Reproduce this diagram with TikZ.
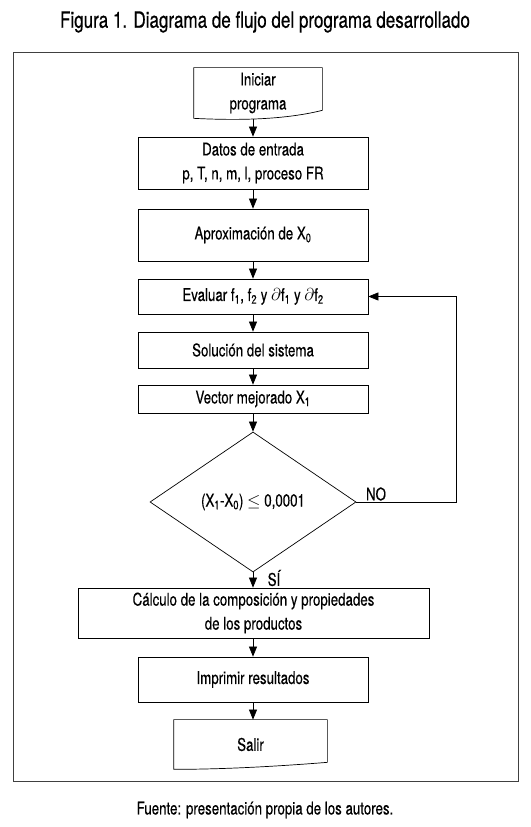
\documentclass[tikz,border=0pt]{standalone}
\usepackage{fontspec}
\setmainfont{TeX Gyre Heros}[FakeStretch=0.76,FakeBold=0.4]
\usepackage{tikz}
\usetikzlibrary{arrows.meta,positioning,shapes.geometric}

\tikzset{
	caja/.style={draw,line width=0.7pt,align=center,inner sep=0pt,minimum width=230pt,font=\fontsize{17.5}{24}\selectfont},
	flecha/.style={line width=0.7pt,-{Triangle[length=10pt,width=8pt]}},
	etiqueta/.style={font=\fontsize{17.5}{24}\selectfont},
}

\begin{document}
\begin{tikzpicture}[x=1pt,y=1pt]
	\useasboundingbox (0,0) rectangle (530,827);
	\node[font=\fontsize{22.4}{26}\selectfont] (titulo) at (265,805) {Figura 1. Diagrama de flujo del programa desarrollado};
	\draw[line width=1pt,black!75] (13,45) rectangle (518,774);
	\node[etiqueta] (fuente) at (265,17) {Fuente: presentación propia de los autores.};

	\node[caja,draw=none,minimum width=128pt,minimum height=50pt] (ini) at (258,734) {Iniciar\\programa};
	\draw[line width=0.7pt] (ini.north west) -- (ini.north east) -- ([yshift=8pt]ini.south east) .. controls +(-40,-10) and +(40,-2) .. (ini.south west) -- cycle;
	\node[caja,minimum height=52pt] (datos) at (253,664) {Datos de entrada\\p, T, n, m, l, proceso FR};
	\node[caja,minimum height=52pt] (aprox) at (253,592) {Aproximación de X\textsubscript{0}};
	\node[caja,minimum height=35pt] (eval) at (253,530.5) {Evaluar f\textsubscript{1}, f\textsubscript{2} y $\partial$f\textsubscript{1} y $\partial$f\textsubscript{2}};
	\node[caja,minimum height=36pt] (sol) at (253,477) {Solución del sistema};
	\node[caja,minimum height=28pt] (vec) at (253,428) {Vector mejorado X\textsubscript{1}};
	\node[caja,diamond,minimum width=206pt,minimum height=140pt] (dec) at (253,325) {(X\textsubscript{1}-X\textsubscript{0}) $\leq$ 0,0001};
	\node[caja,minimum width=351pt,minimum height=50pt] (calc) at (253.5,214) {Cálculo de la composición y propiedades\\de los productos};
	\node[caja,minimum height=45pt] (impr) at (253,147.5) {Imprimir resultados};
	\node[caja,draw=none,minimum width=153pt,minimum height=49pt] (salir) at (250.5,82.5) {Salir};
	\draw[line width=0.7pt] (salir.north west) -- (salir.north east) -- ([yshift=7pt]salir.south east) .. controls +(-50,-4) and +(50,0) .. (salir.south west) -- cycle;
	\coordinate (ret) at (456,325);

	\draw[flecha] ([yshift=-1pt]datos.north |- ini.south) -- (datos.north);
	\draw[flecha] (datos.south) -- (aprox.north);
	\draw[flecha] (aprox.south) -- (eval.north);
	\draw[flecha] (eval.south) -- (sol.north);
	\draw[flecha] (sol.south) -- (vec.north);
	\draw[flecha] (vec.south) -- (dec.north);
	\draw[flecha] (dec.south) -- (dec.south |- calc.north);
	\draw[flecha] (calc.south -| impr.north) -- (impr.north);
	\draw[flecha] (impr.south) -- (impr.south |- salir.north);
	\draw[flecha] (dec.east) -- (ret) |- (eval.east);
	\node[etiqueta] (no) at (376,333) {NO};
	\node[etiqueta] (si) at (274,249) {SÍ};
\end{tikzpicture}
\end{document}
